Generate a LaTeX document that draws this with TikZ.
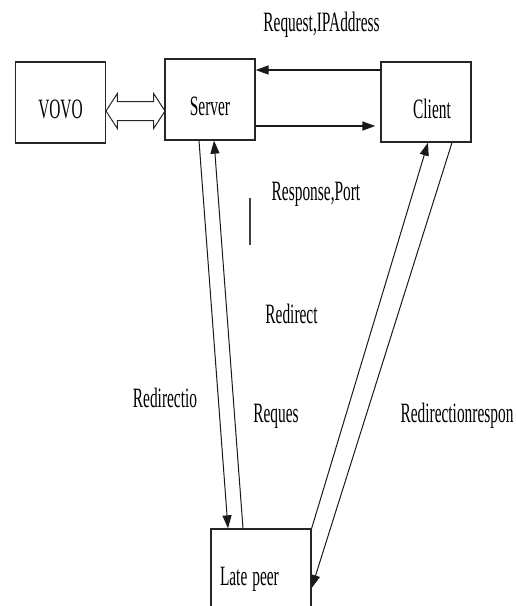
\documentclass[tikz,border=0pt]{standalone}
\usepackage{fontspec}
\setmainfont[FakeStretch=0.55]{Liberation Serif}
\usetikzlibrary{arrows.meta,shapes.arrows}

\begin{document}
\begin{tikzpicture}[x=1pt,y=-1pt,>={Triangle[length=13pt,width=9pt]},
    box/.style={draw=black!85,line width=1.3pt,inner sep=0pt,minimum width=90pt,
      minimum height=81pt,text height=32pt,text depth=0pt,
      font=\fontsize{28}{30}\selectfont},
    lbl/.style={anchor=base,inner sep=0pt,font=\fontsize{28}{30}\selectfont},
    link/.style={->,draw=black!90,line width=1pt},
    dblarrow/.style={double arrow,draw=black!85,line width=1pt,minimum height=59pt,
      inner xsep=0pt,inner ysep=9pt,double arrow head extend=8pt,
      double arrow tip angle=114}]
        \useasboundingbox (0,0) rectangle (516,606);

        \node[box] (vovo) at (60.5,102.5) {VOVO};
        \node[box] (server) at (210,99.5) {Server};
        \node[box,minimum height=80pt] (client) at (426,102) {\hspace*{12pt}Client};
        \node[box,minimum width=100pt,minimum height=90pt,text height=22pt,
          text width=82pt,inner xsep=9pt,align=left] (late) at (261,574) {Late\hspace{5pt}peer};

        \node[dblarrow] (sync) at (135.5,111) {};

        % server <-> client
        \draw[link,line width=1.6pt] ([yshift=32pt]client.west) -- ([yshift=29.5pt]server.east);
        \draw[link,line width=1.6pt,shorten >=5pt] ([yshift=-26.5pt]server.east) -- ([yshift=-24pt]client.west);

        % late peer links
        \draw[link] ([xshift=-11pt]server.south) -- ([xshift=-33pt]late.north);
        \draw[link] ([xshift=-18pt]late.north) -- ([xshift=4pt]server.south);
        \draw[link] (late.north east) -- ([xshift=2pt]client.south);
        \draw[link] ([xshift=26pt]client.south) -- ([yshift=-14pt]late.east);

        \node[lbl] (lreq) at (321.5,31.5) {Request,IPAddress};
        \node[lbl] (lresp) at (316,200) {Response,Port};
        \node[lbl] (lredir) at (291.5,323) {Redirect};
        \node[lbl] (lredirio) at (165,407) {Redirectio};
        \node[lbl] (lreques) at (276,422) {Reques};
        \node[lbl] (lredresp) at (457,422) {Redirectionrespon};

        \draw[black!75,line width=1.6pt] (250,198) -- (250,245);
\end{tikzpicture}
\end{document}
